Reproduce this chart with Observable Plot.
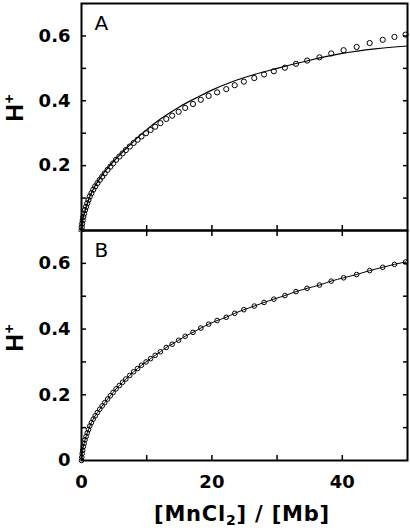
<!DOCTYPE html>
<html>
<head>
<meta charset="utf-8">
<script src="https://cdn.jsdelivr.net/npm/d3@7"></script>
<script src="https://cdn.jsdelivr.net/npm/@observablehq/plot@0.6"></script>
<style>
  html, body { margin: 0; padding: 0; background: white; }
  #wrap { position: relative; width: 410px; height: 532px; overflow: hidden; }
  #wrap svg { position: absolute; left: 0; background: transparent; }
  .ylab { position: absolute; font-family: "Liberation Sans", Arial, sans-serif; font-weight: bold; font-size: 24px;
          transform: translate(-50%, -50%) rotate(-90deg); white-space: nowrap; line-height: 1; }
  .ylab sup { font-size: 15px; vertical-align: 0.55em; margin-left: 1px; }
  .xlab { position: absolute; font-family: "DejaVu Sans", sans-serif; font-weight: bold; font-size: 21px;
          letter-spacing: 0.8px; white-space: nowrap; transform: translateX(-50%); line-height: 1; }
  .xlab sub { font-size: 14px; vertical-align: -0.3em; }
</style>
</head>
<body>
<div id="wrap"></div>
<script>
// Measured data (same titration points shown in both panels)
const ratio = [0, 0.04, 0.10, 0.18, 0.28, 0.40, 0.54, 0.70, 0.88, 1.07, 1.28, 1.52, 1.80, 2.10, 2.44, 2.80, 3.17, 3.56, 4.0, 4.42, 4.85, 5.3, 5.8, 6.3, 6.8, 7.4, 8.0, 8.6, 9.2, 9.9, 10.6, 11.3, 12.1, 13.0, 13.9, 14.9, 15.9, 17.1, 18.3, 19.5, 20.8, 22.2, 23.5, 24.9, 26.5, 28.0, 29.5, 31.2, 32.9, 34.6, 36.5, 38.3, 40.2, 42.2, 44.2, 46.2, 48.0, 49.7];
const hplus = [0, 0.010, 0.021, 0.031, 0.042, 0.052, 0.063, 0.073, 0.084, 0.094, 0.105, 0.115, 0.126, 0.136, 0.146, 0.156, 0.166, 0.176, 0.187, 0.197, 0.207, 0.218, 0.228, 0.238, 0.248, 0.259, 0.270, 0.280, 0.290, 0.300, 0.310, 0.320, 0.331, 0.344, 0.354, 0.366, 0.378, 0.390, 0.403, 0.415, 0.426, 0.436, 0.448, 0.459, 0.470, 0.481, 0.491, 0.502, 0.514, 0.524, 0.534, 0.546, 0.556, 0.566, 0.578, 0.588, 0.597, 0.604];

// Fit curve in panel A
const fitAx = [0, 0.25, 0.5, 1, 1.5, 2, 3, 4, 5, 6, 7, 8, 10, 12, 15, 18, 20, 23, 26, 30, 35, 40, 45, 50];
const fitAy = [0, 0.040, 0.058, 0.090, 0.115, 0.135, 0.166, 0.192, 0.215, 0.236, 0.256, 0.275, 0.311, 0.342, 0.381, 0.413, 0.433, 0.458, 0.478, 0.500, 0.525, 0.546, 0.560, 0.569];

// Ticks
const yMinorTicks = [0.1, 0.2, 0.3, 0.4, 0.5, 0.6];
const yLabelsA = [0.2, 0.4, 0.6];
const yLabelsB = [0, 0.2, 0.4, 0.6];
const xMinorTicks = [10, 20, 30, 40];
const xLabels = [0, 20, 40];
const panelA = "A", panelB = "B";
const yTitle = "H", ySup = "+";

const points = ratio.map((x, i) => ({x, y: hplus[i]}));
const fitA = fitAx.map((x, i) => ({x, y: fitAy[i]}));

const fmt = d => d === 0 ? "0" : d.toFixed(1);
const tickFont = {fontFamily: "DejaVu Sans", fontWeight: "bold", fontSize: 18, fill: "black"};

function common(labels, letter) {
  return [
    Plot.axisY(yMinorTicks, {anchor: "left", tickSize: -5, strokeWidth: 1.5, tickFormat: () => "", label: null}),
    Plot.axisY(yMinorTicks, {anchor: "right", tickSize: -5, strokeWidth: 1.5, tickFormat: () => "", label: null}),
    Plot.axisX(xMinorTicks, {anchor: "bottom", tickSize: -5, strokeWidth: 1.5, tickFormat: () => "", label: null}),
    Plot.axisY(labels, {anchor: "left", tickSize: 0, tickPadding: 11, tickFormat: fmt, label: null, ...tickFont}),
    Plot.frame({stroke: "black", strokeWidth: 2}),
    Plot.text([letter], {frameAnchor: "top-left", dx: 13, dy: 12.5, lineAnchor: "top", textAnchor: "start",
      fontFamily: "DejaVu Sans", fontSize: 20, fontWeight: "normal", fill: "black"})
  ];
}

const plotA = Plot.plot({
  width: 410, height: 232,
  marginLeft: 81, marginRight: 3, marginTop: 3, marginBottom: 2,
  x: {domain: [0, 50]},
  y: {domain: [0, 0.7]},
  style: {background: "transparent", fontFamily: "DejaVu Sans", fontSize: "18px"},
  marks: [
    ...common(yLabelsA, panelA),
    Plot.line(fitA, {x: "x", y: "y", curve: "monotone-x", stroke: "black", strokeWidth: 1.2}),
    Plot.dot(points, {x: "x", y: "y", r: 2.6, stroke: "black", strokeWidth: 1, fill: "none"})
  ]
});

const plotB = Plot.plot({
  width: 410, height: 304,
  marginLeft: 81, marginRight: 3, marginTop: 2, marginBottom: 72,
  x: {domain: [0, 50]},
  y: {domain: [0, 0.7]},
  style: {background: "transparent", fontFamily: "DejaVu Sans", fontSize: "18px"},
  marks: [
    ...common(yLabelsB, panelB),
    Plot.axisX(xMinorTicks, {anchor: "top", tickSize: -5, strokeWidth: 1.5, tickFormat: () => "", label: null}),
    Plot.axisX(xLabels, {anchor: "bottom", tickSize: 0, tickPadding: 15, tickFormat: d => String(d), label: null, ...tickFont}),
    Plot.line(points, {x: "x", y: "y", curve: "monotone-x", stroke: "black", strokeWidth: 1}),
    Plot.dot(points, {x: "x", y: "y", r: 2.3, stroke: "black", strokeWidth: 1, fill: "none"})
  ]
});

const wrap = document.getElementById("wrap");
plotA.style.top = "0px";
plotB.style.top = "228px";
wrap.appendChild(plotA);
wrap.appendChild(plotB);

function yLabel(top) {
  const d = document.createElement("div");
  d.className = "ylab";
  d.style.left = "14px";
  d.style.top = top + "px";
  d.innerHTML = yTitle + "<sup>" + ySup + "</sup>";
  wrap.appendChild(d);
}
yLabel(108);
yLabel(338);

const xl = document.createElement("div");
xl.className = "xlab";
xl.style.left = "242px";
xl.style.top = "504px";
xl.innerHTML = "[MnCl<sub>2</sub>] / [Mb]";
wrap.appendChild(xl);
</script>
</body>
</html>
